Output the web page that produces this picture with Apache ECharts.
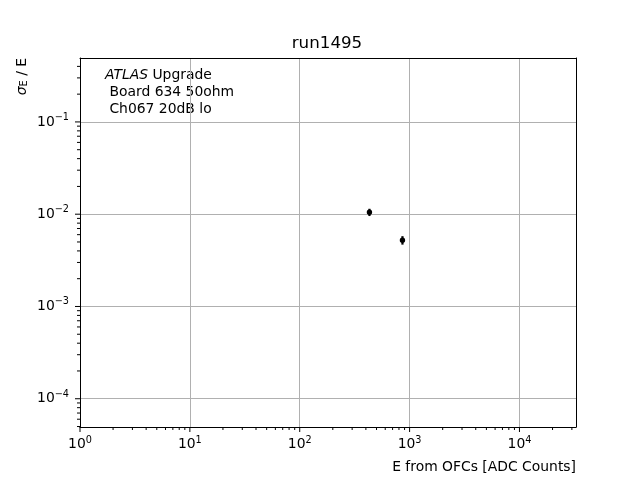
<!DOCTYPE html>
<html>
<head>
<meta charset="utf-8">
<script src="https://cdn.jsdelivr.net/npm/echarts@6/dist/echarts.min.js"></script>
<style>
  html, body { margin: 0; padding: 0; background: #fff; }
  #chart { width: 640px; height: 480px; }
</style>
</head>
<body>
<div id="chart"></div>
<script>
// measured points
var energy = [431, 861];
var resolution = [0.0105, 0.00523];
var resolutionErr = [0.00095, 0.00055];

// axes
var xTicks = [1, 10, 100, 1000, 10000];
var yTicks = [1e-4, 1e-3, 1e-2, 1e-1];
var xRange = [1, 32700];
var yRange = [4.94e-5, 0.493];

var FONT = 'DejaVu Sans';

// minor ticks 2..9 of every decade inside the range
function minorTicks(range) {
    var out = [];
    var lo = Math.floor(Math.log10(range[0])), hi = Math.ceil(Math.log10(range[1]));
    for (var k = lo; k <= hi; k++) {
        for (var m = 2; m <= 9; m++) {
            var v = m * Math.pow(10, k);
            if (v > range[0] && v < range[1]) out.push(v);
        }
    }
    return out;
}

function powLabel(v) {
    var l = Math.log10(v), e = Math.round(l);
    if (Math.abs(l - e) > 1e-6) return '';
    return '{b|10}{s|' + (e < 0 ? '\u2212' + (-e) : e) + '}';
}

var labelRich = {
    b: { fontSize: 13.9, fontFamily: FONT, color: '#000' },
    s: { fontSize: 9.7, fontFamily: FONT, color: '#000', padding: [0, 0, 9, 0] }
};

var xTickData = xTicks.map(function (v) { return [v, yRange[0], 5]; })
    .concat(minorTicks(xRange).map(function (v) { return [v, yRange[0], 3]; }));
var yTickData = yTicks.map(function (v) { return [xRange[0], v, 5]; })
    .concat(minorTicks(yRange).map(function (v) { return [xRange[0], v, 3]; }));

var chart = echarts.init(document.getElementById('chart'));

var option = {
    backgroundColor: '#fff',
    animation: false,
    grid: { left: 80, right: 64, top: 58, bottom: 53 },
    xAxis: [{
        type: 'log', logBase: 10, min: xRange[0], max: xRange[1],
        axisLine: { lineStyle: { color: '#000', width: 1 } },
        axisTick: { show: false },
        axisLabel: { formatter: powLabel, rich: labelRich, margin: 8, showMinLabel: true, showMaxLabel: true },
        splitLine: { show: true, lineStyle: { color: '#b0b0b0', width: 1 } }
    }, {
        type: 'log', logBase: 10, min: xRange[0], max: xRange[1], position: 'top', z: 5,
        axisLine: { show: true, lineStyle: { color: '#000', width: 1 } },
        axisTick: { show: false }, axisLabel: { show: false }, splitLine: { show: false }
    }],
    yAxis: [{
        type: 'log', logBase: 10, min: yRange[0], max: yRange[1],
        axisLine: { show: true, lineStyle: { color: '#000', width: 1 } },
        axisTick: { show: false },
        axisLabel: { formatter: powLabel, rich: labelRich, margin: 11 },
        splitLine: { show: true, lineStyle: { color: '#b0b0b0', width: 1 } }
    }, {
        type: 'log', logBase: 10, min: yRange[0], max: yRange[1], position: 'right', z: 5,
        axisLine: { show: true, lineStyle: { color: '#000', width: 1 } },
        axisTick: { show: false }, axisLabel: { show: false }, splitLine: { show: false }
    }],
    series: [{
        // x ticks
        type: 'custom', silent: true, clip: false, xAxisIndex: 0, yAxisIndex: 0,
        data: xTickData,
        renderItem: function (params, api) {
            var p = api.coord([api.value(0), api.value(1)]);
            return { type: 'line', shape: { x1: p[0], y1: p[1], x2: p[0], y2: p[1] + api.value(2) },
                     style: { stroke: '#000', lineWidth: 1 } };
        }
    }, {
        // y ticks
        type: 'custom', silent: true, clip: false, xAxisIndex: 0, yAxisIndex: 0,
        data: yTickData,
        renderItem: function (params, api) {
            var p = api.coord([api.value(0), api.value(1)]);
            return { type: 'line', shape: { x1: p[0] - api.value(2), y1: p[1], x2: p[0], y2: p[1] },
                     style: { stroke: '#000', lineWidth: 1 } };
        }
    }, {
        // points with error bars
        type: 'custom', clip: false, xAxisIndex: 0, yAxisIndex: 0, z: 10,
        data: energy.map(function (x, i) { return [x, resolution[i], resolutionErr[i]]; }),
        renderItem: function (params, api) {
            var x = api.value(0), y = api.value(1), e = api.value(2);
            var p = api.coord([x, y]);
            var lo = api.coord([x, y - e]);
            var hi = api.coord([x, y + e]);
            return { type: 'group', children: [
                { type: 'line', shape: { x1: p[0], y1: lo[1], x2: p[0], y2: hi[1] },
                  style: { stroke: '#000', lineWidth: 2.2 } },
                { type: 'circle', shape: { cx: p[0], cy: p[1], r: 2.7 }, style: { fill: '#000' } }
            ] };
        }
    }],
    graphic: [{
        type: 'text', x: 327, y: 44,
        style: { text: 'run1495', font: '16.7px "DejaVu Sans"', fill: '#000', align: 'center', verticalAlign: 'middle' }
    }, {
        type: 'text', x: 576, y: 467,
        style: { text: 'E from OFCs [ADC Counts]', font: '13.9px "DejaVu Sans"', fill: '#000', align: 'right', verticalAlign: 'middle' }
    }, {
        type: 'text', x: 22, y: 58, rotation: Math.PI / 2,
        style: {
            text: '{g|\u03c3}{sub|E}{n| / E}', align: 'right', verticalAlign: 'middle',
            rich: {
                g: { font: 'italic 13.9px "DejaVu Sans"', fill: '#000' },
                sub: { font: '9.7px "DejaVu Sans"', fill: '#000', padding: [5, 0, 0, 0] },
                n: { font: '13.9px "DejaVu Sans"', fill: '#000' }
            }
        }
    }, {
        type: 'text', x: 105, y: 67,
        style: {
            text: '{i|ATLAS}{n| Upgrade}\n{n| Board 634 50ohm}\n{n| Ch067 20dB lo}',
            align: 'left', verticalAlign: 'top',
            rich: {
                i: { font: 'italic 13.9px "DejaVu Sans"', fill: '#000', lineHeight: 17 },
                n: { font: '13.9px "DejaVu Sans"', fill: '#000', lineHeight: 17 }
            }
        }
    }]
};

chart.setOption(option);
</script>
</body>
</html>
